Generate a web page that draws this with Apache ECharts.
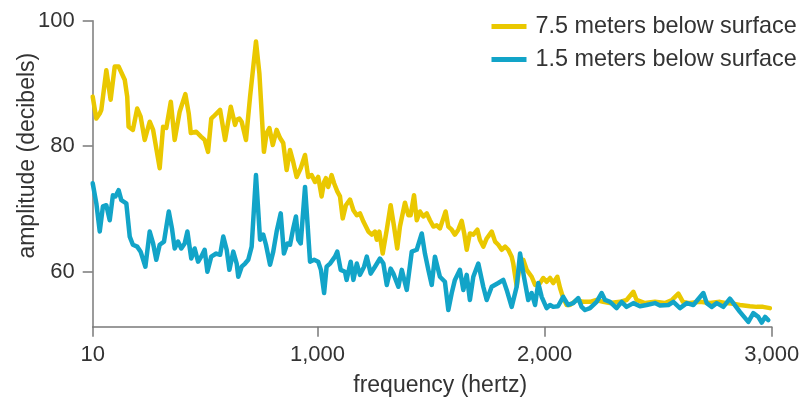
<!DOCTYPE html>
<html>
<head>
<meta charset="utf-8">
<script src="https://cdn.jsdelivr.net/npm/echarts@6/dist/echarts.min.js"></script>
<style>html,body{margin:0;padding:0;background:#fff}#c{width:803px;height:401px}</style>
</head>
<body>
<div id="c"></div>
<script>
const seriesNames = ['7.5 meters below surface', '1.5 meters below surface'];
const xTicks = [10, 1000, 2000, 3000];
const yTicks = [60, 80, 100];

const deepFreq = [10,26,41,48,70,89,107,124,151,162,168,187,206,221,239,261,276,305,320,334,354,371,393,400,418,433,442,466,488,503,518,532,541,571,593,618,637,644,656,666,685,703,729,744,764,776,788,803,820,835,849,864,879,893,908,926,945,959,974,989,1003,1018,1029,1037,1047,1062,1073,1087,1099,1111,1125,1143,1158,1173,1187,1202,1224,1239,1253,1261,1272,1287,1305,1322,1337,1351,1363,1385,1400,1410,1425,1437,1451,1466,1481,1495,1510,1525,1539,1554,1564,1576,1591,1605,1620,1635,1646,1657,1671,1686,1704,1715,1730,1745,1767,1782,1796,1811,1826,1840,1855,1862,1877,1892,1906,1921,1943,1958,1980,1994,2009,2024,2038,2056,2068,2082,2097,2112,2141,2169,2200,2229,2258,2288,2332,2361,2391,2405,2442,2486,2530,2561,2589,2609,2640,2684,2728,2772,2802,2830,2860,2904,2934,2962,2992];
const deepAmp = [87.9,84.4,85.2,85.8,92.1,87.4,92.7,92.7,90.6,87.9,83.1,82.6,86.0,84.7,81.0,83.9,82.6,76.5,83.1,82.9,87.1,81.0,85.5,85.2,88.3,85.2,82.1,82.3,81.5,81.0,79.1,84.4,84.7,85.8,81.0,86.3,83.4,84.2,84.4,83.9,81.0,87.9,96.7,91.6,79.1,82.1,82.9,80.2,82.6,81.3,80.5,76.2,79.4,77.5,75.1,76.5,78.6,75.1,75.4,74.3,75.1,72.0,74.3,74.9,73.5,75.4,74.1,72.8,72.0,68.5,70.6,71.5,69.8,69.0,69.3,68.0,66.4,65.9,66.4,65.1,66.4,62.9,66.7,70.6,67.2,63.7,67.2,71.0,69.0,69.0,72.2,68.2,69.6,68.8,69.3,68.2,67.2,67.4,66.9,68.5,69.6,67.2,66.7,65.9,66.7,68.1,66.1,63.5,66.1,65.9,66.7,65.1,64.0,65.3,66.4,64.8,64.3,63.5,64.0,63.5,62.4,61.3,57.7,61.3,61.9,60.3,59.2,57.9,58.2,59.0,58.4,59.0,58.2,59.2,57.4,55.8,54.7,54.7,55.5,55.2,55.2,55.5,55.2,55.0,55.2,55.5,56.8,55.5,55.0,55.2,55.0,55.5,56.5,55.2,55.0,55.2,55.0,55.2,55.0,54.9,54.7,54.5,54.4,54.4,54.2];

const shallowFreq = [10,26,41,55,70,85,99,110,124,136,158,173,187,206,221,242,261,276,290,305,324,345,359,371,386,400,415,427,444,459,474,488,503,515,532,554,571,585,600,612,629,644,651,666,681,695,710,729,747,761,773,791,805,820,838,852,867,879,893,905,915,926,945,955,967,985,1003,1015,1029,1040,1055,1077,1087,1102,1121,1128,1146,1158,1173,1187,1205,1217,1234,1253,1275,1290,1305,1322,1334,1356,1371,1393,1415,1437,1459,1473,1488,1503,1517,1539,1561,1576,1591,1605,1627,1642,1657,1671,1686,1708,1730,1745,1767,1796,1818,1833,1855,1877,1892,1909,1928,1943,1958,1972,1987,2009,2024,2038,2059,2082,2103,2126,2148,2163,2178,2200,2229,2251,2266,2288,2317,2339,2361,2391,2420,2449,2486,2508,2545,2567,2596,2626,2655,2699,2714,2736,2758,2787,2816,2831,2860,2897,2919,2941,2956,2971,2985];
const shallowAmp = [74.1,70.9,66.4,70.4,70.6,68.2,72.2,72.0,73.0,71.4,70.9,65.6,64.3,64.0,63.2,60.8,66.4,64.5,61.9,64.3,64.8,69.6,66.9,63.7,64.8,63.7,64.5,66.4,62.1,63.7,61.6,62.4,63.5,60.0,62.4,62.9,62.7,65.6,63.5,60.3,63.2,61.3,59.2,60.8,61.3,61.9,64.0,75.4,65.1,65.9,64.3,61.1,63.2,66.4,69.3,62.9,64.5,64.3,66.9,68.8,65.1,64.5,73.5,68.2,61.6,61.9,61.6,60.3,56.6,60.8,61.3,62.4,63.2,60.3,60.0,58.7,61.6,58.7,61.3,59.5,60.8,62.4,59.7,60.8,62.1,61.3,57.9,60.5,59.7,57.6,60.3,57.1,63.2,63.5,66.1,62.9,60.3,57.9,62.4,59.2,58.4,53.9,56.6,58.7,60.3,57.1,59.5,55.5,59.2,61.3,57.6,55.5,57.6,58.2,58.7,57.1,54.4,57.6,62.9,59.2,55.5,56.6,54.7,58.2,56.0,54.2,54.7,54.4,54.5,56.0,54.7,55.0,55.8,54.4,53.9,54.2,55.2,56.6,55.5,55.2,54.2,55.2,54.4,55.0,54.5,54.7,55.0,54.6,54.7,55.2,54.2,55.0,54.7,56.6,55.0,54.4,55.0,54.4,55.7,55.0,53.6,52.0,53.4,52.8,51.9,52.8,52.3];

const zip = (xs, ys) => xs.map((x, i) => [x, ys[i]]);
const FONT = '"Liberation Sans", Arial, Helvetica, sans-serif';
const TXT = '#333333';
const AXIS = '#7a7a7a';

const chart = echarts.init(document.getElementById('c'), null, {renderer: 'canvas'});
chart.setOption({
  animation: false,
  backgroundColor: '#ffffff',
  textStyle: {fontFamily: FONT},
  grid: {left: 92.7, right: 31.3, top: 20.7, bottom: 74.3, containLabel: false, outerBoundsMode: 'none'},
  legend: {
    orient: 'vertical',
    left: 491.5,
    top: 15,
    padding: 0,
    align: 'left',
    itemWidth: 35,
    itemHeight: 5,
    itemGap: 10,
    icon: 'rect',
    data: seriesNames,
    textStyle: {fontFamily: FONT, fontSize: 23.4, color: TXT, lineHeight: 23, padding: [0, 0, 0, 4]}
  },
  xAxis: {
    type: 'value',
    min: 10,
    max: 3000,
    name: 'frequency (hertz)',
    nameLocation: 'middle',
    nameGap: 47,
    nameMoveOverlap: false,
    nameTextStyle: {fontFamily: FONT, fontSize: 23, color: TXT, padding: [0, 0, 0, 16]},
    axisLine: {show: true, lineStyle: {color: AXIS, width: 1.5}},
    axisTick: {show: true, inside: false, length: 10, customValues: xTicks, lineStyle: {color: AXIS, width: 1.5}},
    axisLabel: {
      show: true, margin: 17, fontFamily: FONT, fontSize: 22, color: TXT,
      customValues: xTicks,
      formatter: v => Number(v).toLocaleString('en-US')
    },
    splitLine: {show: false}
  },
  yAxis: {
    type: 'value',
    min: 51.24,
    max: 100,
    name: 'amplitude (decibels)',
    nameLocation: 'middle',
    nameGap: 54,
    nameRotate: 90,
    nameMoveOverlap: false,
    nameTextStyle: {fontFamily: FONT, fontSize: 23, color: TXT, padding: [0, 0, 0, 36]},
    axisLine: {show: true, lineStyle: {color: AXIS, width: 1.5}},
    axisTick: {show: true, inside: false, length: 10, customValues: yTicks, lineStyle: {color: AXIS, width: 1.5}},
    axisLabel: {show: true, margin: 18, fontFamily: FONT, fontSize: 22, color: TXT, customValues: yTicks},
    splitLine: {show: false}
  },
  series: [
    {
      name: seriesNames[0],
      type: 'line',
      data: zip(deepFreq, deepAmp),
      showSymbol: false,
      symbol: 'none',
      color: '#EAC800',
      lineStyle: {width: 4.5, color: '#EAC800', join: 'round', cap: 'round'},
      z: 2
    },
    {
      name: seriesNames[1],
      type: 'line',
      data: zip(shallowFreq, shallowAmp),
      showSymbol: false,
      symbol: 'none',
      color: '#12A4C8',
      lineStyle: {width: 4.5, color: '#12A4C8', join: 'round', cap: 'round'},
      z: 3
    }
  ]
});
</script>
</body>
</html>
